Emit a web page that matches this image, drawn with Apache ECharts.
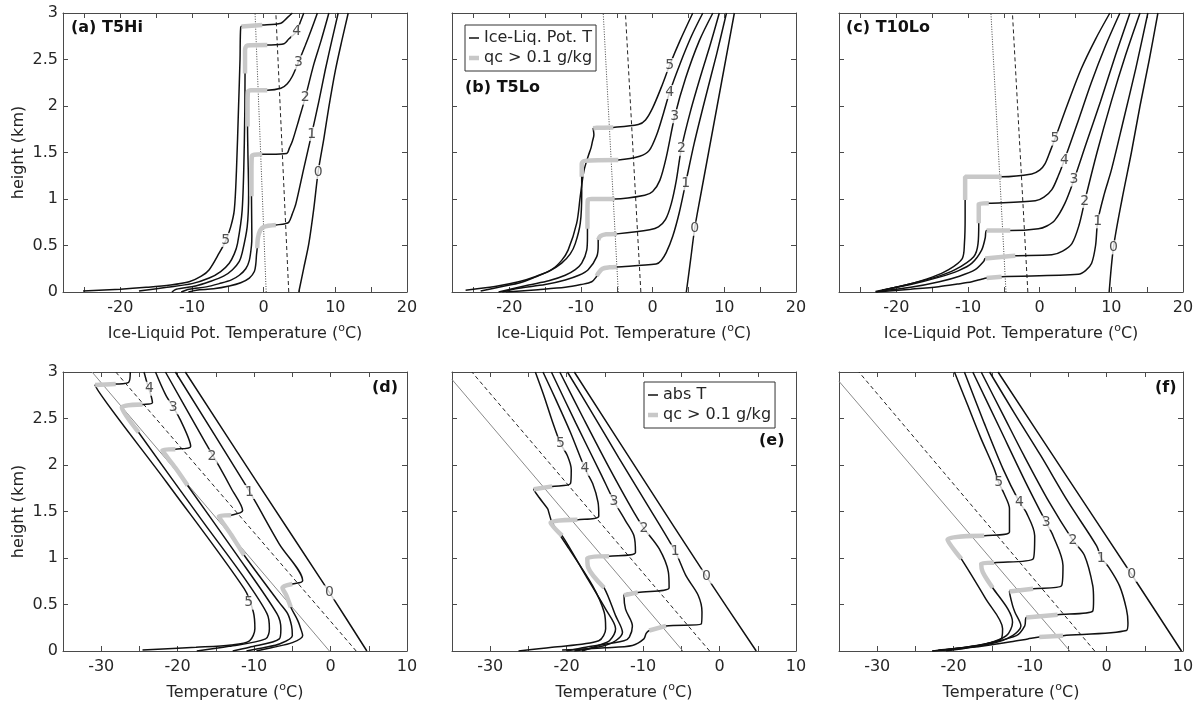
<!DOCTYPE html>
<html>
<head>
<meta charset="utf-8">
<script src="https://cdn.jsdelivr.net/npm/echarts@6/dist/echarts.min.js"></script>
<style>
html, body { margin: 0; padding: 0; background: #fff; }
#chart { width: 1203px; height: 706px; }
</style>
</head>
<body>
<div id="chart"></div>
<script>
// Six sounding panels: ice-liquid pot. temperature (top) and absolute T (bottom),
// curves 0..5 are successive days, thick grey where qc > 0.1 g/kg.

const FONT = 'DejaVu Sans';
const INK = '#262626';
const FRAME = '#4a4a4a';

const xTopTicks = [-25, -20, -15, -10, -5, 0, 5, 10, 15, 20];
const xTopLabels = [-20, -10, 0, 10, 20];
const xBotTicks = [-35, -30, -25, -20, -15, -10, -5, 0, 5, 10];
const xBotLabels = [-30, -20, -10, 0, 10];
const yTicks = [0, 0.5, 1, 1.5, 2, 2.5, 3];
const panelTitles = ['(a) T5Hi', '(b) T5Lo', '(c) T10Lo', '(d)', '(e)', '(f)'];
const curveNames = ['0', '1', '2', '3', '4', '5'];

// ---- (a) T5Hi, ice-liquid potential temperature [degC, km]
const aCurves = [
  [[4.9,0],[5.6,0.26],[6.3,0.52],[7.0,0.9],[7.6,1.29],[8.4,1.65],[9.1,1.99],[10.0,2.38],[10.9,2.7],[11.8,3.0]],
  [[-10.5,0],[-9.4,0.02],[-7,0.035],[-4.8,0.065],[-3.2,0.1],[-2.0,0.15],[-1.3,0.22],[-1.1,0.3],[-1.0,0.4],[-0.9,0.47],[-0.8,0.58],[-0.5,0.66],[0,0.7],[1.7,0.72],[3.0,0.735],[3.5,0.75],[4.0,0.84],[4.5,0.95],[5.6,1.33],[6.7,1.7],[7.7,2.05],[8.6,2.39],[9.5,2.7],[10.4,3.0]],
  [[-11.5,0],[-10.4,0.03],[-8,0.055],[-6.2,0.09],[-4.5,0.13],[-3.4,0.18],[-2.5,0.25],[-2.0,0.34],[-1.7,0.5],[-1.65,0.6],[-1.7,1.03],[-1.7,1.3],[-1.65,1.46],[-1.3,1.475],[-0.2,1.48],[3.2,1.49],[3.6,1.55],[4.0,1.62],[4.9,1.85],[5.8,2.09],[7.0,2.45],[8.0,2.7],[9.1,3.0]],
  [[-12.8,0],[-12.2,0.03],[-9.5,0.065],[-7.6,0.11],[-5.6,0.17],[-4.35,0.24],[-3.4,0.33],[-3.0,0.42],[-2.3,0.7],[-2.1,1.06],[-2.2,1.5],[-2.25,1.78],[-2.25,2.0],[-2.2,2.15],[-1.8,2.17],[0.5,2.17],[2.4,2.19],[3.3,2.24],[4.0,2.32],[4.85,2.47],[5.8,2.65],[6.7,2.83],[7.5,3.0]],
  [[-17.4,0.01],[-13.5,0.05],[-10,0.09],[-7.6,0.15],[-6,0.22],[-4.8,0.31],[-4.1,0.41],[-3.65,0.52],[-3.0,0.88],[-2.7,1.6],[-2.6,2.35],[-2.6,2.6],[-2.3,2.65],[0.5,2.655],[2.84,2.67],[3.5,2.72],[4.6,2.8],[5.1,2.9],[5.6,3.0]],
  [[-25.2,0.01],[-20,0.03],[-16.4,0.05],[-13,0.075],[-10.4,0.11],[-8.7,0.17],[-7.6,0.24],[-6.2,0.42],[-5.3,0.55],[-4.6,0.7],[-4.1,0.88],[-3.8,1.3],[-3.5,2.0],[-3.3,2.5],[-3.2,2.85],[-2.8,2.86],[-0.2,2.87],[2.4,2.89],[3.3,2.95],[4.0,3.0]]
];
const aCloud = [
  [[-0.9,0.47],[-0.8,0.58],[-0.5,0.66],[0,0.7],[1.7,0.72]],
  [[-1.7,1.03],[-1.7,1.3],[-1.65,1.46],[-1.3,1.475],[-0.2,1.48]],
  [[-2.25,1.78],[-2.25,2.0],[-2.2,2.15],[-1.8,2.17],[0.5,2.17]],
  [[-2.6,2.35],[-2.6,2.6],[-2.3,2.65],[0.5,2.655]],
  [[-3.1,2.855],[-0.2,2.87]]
];
const aDotted = [[0.35,0],[-1.2,3]];
const aDashed = [[3.5,0],[1.7,3]];
const aLabels = [[7.6,1.29],[6.7,1.7],[5.8,2.09],[4.85,2.47],[4.6,2.8],[-5.3,0.56]];

// ---- (b) T5Lo
const bCurves = [
  [[4.7,0],[5.3,0.35],[5.86,0.68],[6.6,1.0],[7.8,1.5],[9.0,2.0],[10.2,2.5],[11.4,3.0]],
  [[-20.5,0],[-16,0.025],[-12.2,0.05],[-10,0.08],[-8.5,0.11],[-7.8,0.17],[-7.6,0.2],[-7.0,0.25],[-6.0,0.265],[-5.0,0.27],[0.48,0.3],[1.2,0.34],[1.87,0.42],[2.8,0.6],[3.7,0.85],[4.6,1.17],[5.8,1.6],[7.4,2.1],[8.9,2.55],[10.3,3.0]],
  [[-21,0],[-18.7,0.04],[-15,0.08],[-12.2,0.13],[-10.3,0.18],[-9.0,0.24],[-7.8,0.38],[-7.6,0.5],[-7.6,0.56],[-7.3,0.6],[-6.5,0.62],[-5.0,0.625],[-0.4,0.67],[0.8,0.7],[1.8,0.78],[2.6,0.95],[3.3,1.2],[4.0,1.54],[5.3,1.95],[6.8,2.35],[8.0,2.65],[9.3,3.0]],
  [[-21.5,0],[-17.3,0.075],[-14.5,0.12],[-12.2,0.18],[-10.8,0.24],[-9.9,0.31],[-9.2,0.45],[-9.1,0.6],[-9.1,0.68],[-9.1,0.85],[-9.05,0.99],[-8.5,1.0],[-5.3,1.0],[-1.1,1.04],[0,1.08],[1.0,1.2],[1.9,1.45],[3.08,1.89],[4.6,2.3],[6.5,2.7],[8.4,3.0]],
  [[-24,0.01],[-21,0.06],[-18.5,0.1],[-16.4,0.16],[-14.3,0.23],[-12.7,0.31],[-11.5,0.41],[-10.8,0.52],[-10.1,0.74],[-9.9,1.06],[-9.9,1.24],[-9.9,1.38],[-9.5,1.41],[-4.8,1.42],[-1.8,1.46],[-0.5,1.52],[0.6,1.7],[1.5,1.92],[2.38,2.15],[3.8,2.45],[5.4,2.75],[7.0,3.0]],
  [[-26.1,0.02],[-22,0.06],[-18.7,0.11],[-16.2,0.17],[-14.1,0.24],[-12.7,0.34],[-11.8,0.45],[-10.6,0.74],[-10.1,1.03],[-9.6,1.3],[-9.0,1.46],[-8.6,1.55],[-8.4,1.62],[-8.2,1.69],[-8.3,1.76],[-7.8,1.765],[-5.5,1.77],[-2.0,1.8],[-1.0,1.85],[0,1.98],[1.2,2.2],[2.38,2.44],[3.8,2.7],[5.6,3.0]]
];
const bCloud = [
  [[-7.8,0.17],[-7.6,0.2],[-7.0,0.25],[-6.0,0.265],[-5.0,0.27]],
  [[-7.6,0.56],[-7.3,0.6],[-6.5,0.62],[-5.0,0.625]],
  [[-9.1,0.68],[-9.1,0.85],[-9.05,0.99],[-8.5,1.0],[-5.3,1.0]],
  [[-9.9,1.24],[-9.9,1.38],[-9.5,1.41],[-4.8,1.42]],
  [[-8.3,1.76],[-7.8,1.765],[-5.5,1.77]]
];
const bDotted = [[-4.8,0],[-6.9,3]];
const bDashed = [[-1.65,0],[-3.8,3]];
const bLabels = [[5.86,0.68],[4.6,1.17],[4.0,1.54],[3.08,1.89],[2.38,2.15],[2.38,2.44]];

// ---- (c) T10Lo
const cCurves = [
  [[9.7,0],[10.3,0.48],[11.5,1.0],[12.8,1.5],[14.0,2.0],[15.3,2.5],[16.5,3.0]],
  [[-22.9,0],[-18,0.03],[-14.1,0.057],[-11.5,0.085],[-9.45,0.11],[-8.0,0.14],[-7.4,0.15],[-5.3,0.165],[5.4,0.19],[6.4,0.23],[7.25,0.31],[7.8,0.5],[8.1,0.76],[9.0,1.05],[10.0,1.31],[11.7,1.85],[13.4,2.4],[15.1,3.0]],
  [[-22.4,0.01],[-18,0.05],[-14,0.11],[-11.2,0.17],[-9.0,0.24],[-7.8,0.33],[-7.6,0.36],[-5,0.38],[-3.4,0.39],[1.7,0.4],[3.2,0.44],[4.5,0.52],[5.5,0.72],[6.3,0.98],[8.0,1.5],[10.0,2.05],[12.0,2.55],[14.0,3.0]],
  [[-22,0.02],[-18,0.08],[-14,0.16],[-11.3,0.23],[-9.45,0.31],[-8.1,0.45],[-7.6,0.58],[-7.4,0.66],[-4.1,0.66],[-0.17,0.68],[1.0,0.71],[2.1,0.77],[3.5,0.95],[4.8,1.21],[6.5,1.6],[8.5,2.05],[10.6,2.55],[12.6,3.0]],
  [[-22.8,0],[-18.7,0.075],[-14.5,0.16],[-11.8,0.24],[-9.2,0.38],[-8.6,0.52],[-8.5,0.74],[-8.5,0.85],[-8.5,0.95],[-7.1,0.955],[-0.6,0.98],[0.6,1.02],[1.7,1.1],[2.6,1.25],[3.45,1.42],[5.2,1.8],[7.2,2.25],[9.2,2.65],[11.2,3.0]],
  [[-22.9,0.005],[-18.7,0.075],[-15,0.16],[-12.7,0.24],[-10.8,0.36],[-10.5,0.52],[-10.4,0.8],[-10.4,0.99],[-10.4,1.15],[-10.4,1.24],[-9.5,1.24],[-5.3,1.24],[-1.1,1.27],[0,1.31],[0.76,1.38],[1.5,1.52],[2.15,1.65],[3.8,2.0],[5.8,2.4],[7.8,2.72],[9.8,3.0]]
];
const cCloud = [
  [[-7.4,0.15],[-5.3,0.165]],
  [[-7.6,0.36],[-5,0.38],[-3.4,0.39]],
  [[-7.4,0.66],[-4.1,0.66]],
  [[-8.5,0.74],[-8.5,0.85],[-8.5,0.95],[-7.1,0.955]],
  [[-10.4,0.99],[-10.4,1.15],[-10.4,1.24],[-9.5,1.24],[-5.3,1.24]]
];
const cDotted = [[-4.7,0],[-6.8,3]];
const cDashed = [[-1.65,0],[-3.8,3]];
const cLabels = [[10.3,0.48],[8.1,0.76],[6.3,0.98],[4.8,1.21],[3.45,1.42],[2.15,1.65]];

// ---- (d) T5Hi, absolute temperature
const dCurves = [
  [[4.75,0],[-0.15,0.63],[-9.5,1.8],[-19.0,3.0]],
  [[-9.7,0],[-7.5,0.04],[-5.0,0.09],[-3.65,0.165],[-3.9,0.24],[-4.3,0.33],[-5.2,0.47],[-5.8,0.6],[-6.3,0.68],[-5.0,0.72],[-3.65,0.756],[-6.7,1.15],[-9.8,1.6],[-11.3,1.81],[-20.3,3.0]],
  [[-11,0],[-8.5,0.04],[-6.7,0.075],[-5.0,0.165],[-5.1,0.27],[-5.6,0.4],[-6.7,0.52],[-11.3,1.03],[-13.0,1.25],[-14.6,1.45],[-13.0,1.46],[-11.5,1.51],[-13.0,1.75],[-14.6,1.99],[-16.3,2.23],[-21.6,3.0]],
  [[-12.8,0],[-10.6,0.04],[-6.7,0.13],[-6.5,0.24],[-7.0,0.4],[-12.4,1.05],[-18.7,1.78],[-20.3,1.97],[-22.0,2.16],[-20.3,2.17],[-18.3,2.2],[-19.8,2.51],[-21.6,2.76],[-22.9,3.0]],
  [[-17.5,0],[-13.3,0.05],[-8.5,0.13],[-8.0,0.24],[-8.3,0.4],[-11.5,0.81],[-16.6,1.38],[-25.1,2.35],[-27.3,2.62],[-24.6,2.65],[-23.3,2.67],[-23.5,2.75],[-24.0,2.88],[-24.4,3.0]],
  [[-24.6,0.01],[-17.6,0.04],[-13,0.065],[-10.6,0.11],[-9.9,0.24],[-10.1,0.42],[-11.3,0.67],[-21.5,1.82],[-30.8,2.86],[-28.1,2.87],[-26.4,2.89],[-26.2,3.0]]
];
const dCloud = [
  [[-5.2,0.47],[-5.8,0.6],[-6.3,0.68],[-5.0,0.72]],
  [[-11.3,1.03],[-13.0,1.25],[-14.6,1.45],[-13.0,1.46]],
  [[-18.7,1.78],[-20.3,1.97],[-22.0,2.16],[-20.3,2.17]],
  [[-25.1,2.35],[-27.3,2.62],[-24.6,2.65]],
  [[-30.8,2.86],[-28.1,2.87]]
];
const dDotted = [[-0.15,0],[-31.2,3]];
const dDashed = [[3.35,0],[-28.1,3]];
const dLabels = [[-0.15,0.63],[-10.6,1.71],[-15.5,2.09],[-20.6,2.62],[-23.7,2.82],[-10.7,0.52]];

// ---- (e) T5Lo
const eCurves = [
  [[4.8,0],[-1.7,0.8],[-10,1.85],[-19.0,3.0]],
  [[-20.6,0.01],[-15,0.035],[-11.4,0.06],[-9.9,0.13],[-9.6,0.19],[-9.2,0.22],[-7.0,0.27],[-2.4,0.29],[-2.3,0.42],[-2.8,0.6],[-4.4,0.81],[-5.8,1.07],[-9.5,1.58],[-13.2,2.08],[-16.6,2.55],[-19.9,3.0]],
  [[-20,0],[-17.5,0.04],[-12.5,0.11],[-11.8,0.15],[-11.4,0.27],[-12.3,0.45],[-12.5,0.6],[-10.7,0.63],[-6.6,0.68],[-6.7,0.85],[-7.9,1.1],[-9.9,1.32],[-11.2,1.49],[-14.5,1.98],[-17.8,2.5],[-20.9,3.0]],
  [[-19,0],[-15,0.06],[-13.6,0.11],[-12.7,0.2],[-13.6,0.38],[-15.1,0.68],[-17.2,0.9],[-17.3,1.0],[-14.45,1.02],[-11.0,1.06],[-11.2,1.24],[-12.3,1.4],[-13.8,1.61],[-15.5,1.9],[-18.8,2.45],[-22.0,3.0]],
  [[-18,0],[-15.5,0.07],[-14.4,0.11],[-13.6,0.24],[-14.9,0.45],[-17.5,0.81],[-20.6,1.24],[-22.1,1.38],[-18.6,1.41],[-15.8,1.45],[-15.9,1.6],[-16.6,1.8],[-17.6,1.96],[-19.5,2.35],[-21.4,2.7],[-23.1,3.0]],
  [[-26.3,0],[-21.9,0.04],[-15.8,0.11],[-14.9,0.24],[-15.1,0.42],[-16.6,0.7],[-19.7,1.1],[-21.9,1.38],[-22.3,1.48],[-22.5,1.53],[-23.6,1.65],[-24.3,1.74],[-21.9,1.77],[-19.5,1.8],[-19.4,1.95],[-19.9,2.1],[-20.8,2.23],[-22.0,2.5],[-23.0,2.75],[-24.1,3.0]]
];
const eCloud = [
  [[-9.2,0.22],[-7.0,0.27]],
  [[-12.5,0.6],[-10.7,0.63]],
  [[-15.1,0.68],[-17.2,0.9],[-17.3,1.0],[-14.45,1.02]],
  [[-20.6,1.24],[-22.1,1.38],[-18.6,1.41]],
  [[-24.3,1.74],[-21.9,1.77]]
];
const eDotted = [[-4.8,0],[-35,2.92]];
const eDashed = [[-1.3,0],[-32.4,3]];
const eLabels = [[-1.7,0.8],[-5.8,1.07],[-9.9,1.32],[-13.8,1.61],[-17.6,1.96],[-20.8,2.23]];

// ---- (f) T10Lo
const fCurves = [
  [[9.8,0],[3.3,0.82],[-5,1.85],[-14.2,3.0]],
  [[-22.8,0],[-17.5,0.04],[-12.5,0.1],[-10.3,0.13],[-8.8,0.15],[-5.7,0.165],[2.6,0.22],[2.8,0.3],[2.6,0.45],[1.7,0.7],[0.3,0.9],[-0.7,1.0],[-1.3,1.13],[-5.0,1.6],[-8.6,2.1],[-12.0,2.55],[-15.3,3.0]],
  [[-22,0.01],[-17,0.06],[-11.8,0.165],[-10.7,0.27],[-10.5,0.36],[-6.4,0.39],[-1.8,0.43],[-1.7,0.55],[-1.8,0.7],[-2.9,1.03],[-4.4,1.19],[-7.5,1.6],[-10.8,2.1],[-13.6,2.55],[-16.4,3.0]],
  [[-21.5,0.01],[-15,0.08],[-12.3,0.165],[-11.2,0.27],[-12.0,0.42],[-12.3,0.49],[-12.7,0.64],[-9.6,0.67],[-5.9,0.7],[-5.7,0.92],[-7.0,1.24],[-7.9,1.38],[-10.5,1.8],[-14.0,2.4],[-17.5,3.0]],
  [[-21,0],[-16,0.07],[-13.1,0.165],[-12.3,0.31],[-12.9,0.45],[-14.9,0.68],[-16.2,0.85],[-16.4,0.94],[-14.7,0.95],[-9.6,0.99],[-9.4,1.24],[-10.5,1.49],[-11.4,1.6],[-13.5,1.95],[-16.0,2.45],[-18.6,3.0]],
  [[-22.8,0],[-17.5,0.05],[-13.8,0.13],[-13.6,0.24],[-15.8,0.56],[-19.0,0.99],[-20.8,1.2],[-16.0,1.24],[-12.7,1.28],[-12.7,1.53],[-13.4,1.69],[-14.1,1.81],[-14.7,1.96],[-16.5,2.3],[-18.2,2.65],[-19.9,3.0]]
];
const fCloud = [
  [[-8.8,0.15],[-5.7,0.165]],
  [[-10.5,0.36],[-6.4,0.39]],
  [[-12.7,0.64],[-9.6,0.67]],
  [[-14.9,0.68],[-16.2,0.85],[-16.4,0.94],[-14.7,0.95]],
  [[-19.0,0.99],[-20.8,1.2],[-16.0,1.24]]
];
const fDotted = [[-4.8,0],[-35,2.9]];
const fDashed = [[-1.55,0],[-32.4,3]];
const fLabels = [[3.3,0.82],[-0.7,1.0],[-4.4,1.19],[-7.9,1.38],[-11.4,1.6],[-14.1,1.81]];

const panels = [
  { curves: aCurves, cloud: aCloud, dotted: aDotted, dashed: aDashed, labels: aLabels },
  { curves: bCurves, cloud: bCloud, dotted: bDotted, dashed: bDashed, labels: bLabels },
  { curves: cCurves, cloud: cCloud, dotted: cDotted, dashed: cDashed, labels: cLabels },
  { curves: dCurves, cloud: dCloud, dotted: dDotted, dashed: dDashed, labels: dLabels },
  { curves: eCurves, cloud: eCloud, dotted: eDotted, dashed: eDashed, labels: eLabels },
  { curves: fCurves, cloud: fCloud, dotted: fDotted, dashed: fDashed, labels: fLabels },
];

const gridLeft = [63, 452, 839];
const gridTop = [13, 372];
const gridW = 344, gridH = 279;

const BLACK = '#111';
const CLOUD = '#c8c8c8';
const txt = { fontFamily: FONT, fontSize: 16, color: INK };

// legend swatches: a bar inside a 10x14 box (tiny corner specks pin the box size)
const ICON_THIN = 'path://M0,0l0.01,0l0,0.01zM0,6.25h10v1.5h-10zM9.99,14l0.01,0l0,-0.01z';
const ICON_THICK = 'path://M0,0l0.01,0l0,0.01zM0,4.75h10v4.5h-10zM9.99,14l0.01,0l0,-0.01z';

const grids = [], xAxes = [], yAxes = [], series = [];

panels.forEach((p, i) => {
  const row = i < 3 ? 0 : 1;
  const col = i % 3;
  const isTop = row === 0;
  grids.push({ left: gridLeft[col], top: gridTop[row], width: gridW, height: gridH });

  const xMin = isTop ? -28 : -35;
  const xMax = isTop ? 20 : 10;
  const ticks = isTop ? xTopTicks : xBotTicks;
  const labels = isTop ? xTopLabels : xBotLabels;
  const line = { show: true, onZero: false, lineStyle: { color: FRAME, width: 1 } };
  const tick = { show: true, inside: true, length: 5, customValues: ticks, lineStyle: { color: FRAME } };

  xAxes.push({
    type: 'value', gridIndex: i, min: xMin, max: xMax, position: 'bottom',
    axisLine: line, axisTick: tick, splitLine: { show: false },
    axisLabel: { ...txt, margin: 8, customValues: labels, formatter: v => String(v) },
    name: isTop ? 'Ice-Liquid Pot. Temperature ({s|o}C)' : 'Temperature ({s|o}C)',
    nameLocation: 'middle', nameGap: 31,
    nameTextStyle: { ...txt, lineHeight: 22, rich: { s: { fontFamily: FONT, fontSize: 11, color: INK, lineHeight: 11, verticalAlign: 'top' } } },
  });
  xAxes.push({
    type: 'value', gridIndex: i, min: xMin, max: xMax, position: 'top',
    axisLine: line, axisTick: tick, axisLabel: { show: false }, splitLine: { show: false },
  });
  yAxes.push({
    type: 'value', gridIndex: i, min: 0, max: 3, interval: 0.5, position: 'left',
    axisLine: line, axisTick: { show: true, inside: true, length: 5, lineStyle: { color: FRAME } },
    splitLine: { show: false },
    axisLabel: { ...txt, show: col === 0, margin: 5, formatter: v => String(v) },
    name: col === 0 ? 'height (km)' : '', nameLocation: 'middle', nameGap: 36, nameTextStyle: txt,
  });
  yAxes.push({
    type: 'value', gridIndex: i, min: 0, max: 3, interval: 0.5, position: 'right',
    axisLine: line, axisTick: { show: true, inside: true, length: 5, lineStyle: { color: FRAME } },
    axisLabel: { show: false }, splitLine: { show: false },
  });

  const ax = { xAxisIndex: 2 * i, yAxisIndex: 2 * i };
  series.push({
    type: 'line', ...ax, data: p.dotted, symbol: 'none', silent: true, z: 1,
    lineStyle: isTop ? { color: '#444', width: 1, type: [1, 1.5] } : { color: '#8a8a8a', width: 1 },
  });
  series.push({
    type: 'line', ...ax, data: p.dashed, symbol: 'none', silent: true, z: 1,
    lineStyle: { color: '#222', width: 1, type: [4, 3] },
  });
  p.curves.forEach(c => series.push({
    type: 'line', ...ax, name: isTop ? 'Ice-Liq. Pot. T' : 'abs T', data: c, symbol: 'none', silent: true, z: 2,
    smooth: 0.3, itemStyle: { color: BLACK }, lineStyle: { color: BLACK, width: 1.5 },
  }));
  p.cloud.forEach(c => series.push({
    type: 'line', ...ax, name: 'qc > 0.1 g/kg', data: c, symbol: 'none', silent: true, z: 3,
    smooth: 0.3, itemStyle: { color: CLOUD }, lineStyle: { color: CLOUD, width: 4.5 },
  }));
  series.push({
    type: 'scatter', ...ax, symbolSize: 1, silent: true, z: 5,
    itemStyle: { color: 'rgba(0,0,0,0)' },
    data: p.labels.map((v, k) => ({ value: v, name: curveNames[k] })),
    label: {
      show: true, position: 'inside', formatter: '{b}', fontFamily: FONT, fontSize: 14, color: INK,
      backgroundColor: '#fff', padding: [0, 1], lineHeight: 14,
    },
  });
});

const legendBase = {
  orient: 'vertical', selectedMode: false, backgroundColor: '#fff',
  borderColor: '#333', borderWidth: 1, padding: [4, 4], itemGap: 2,
  itemWidth: 10, itemHeight: 14, textStyle: { ...txt, lineHeight: 18 },
};

const titleStyle = { fontFamily: FONT, fontSize: 16, fontWeight: 'bold', color: '#111' };
const titlePos = [[71, 20], [465, 80], [846, 20], [372, 380], [759, 433], [1155, 380]];

const chart = echarts.init(document.getElementById('chart'), null, { renderer: 'canvas' });
chart.setOption({
  animation: false,
  backgroundColor: '#fff',
  title: panelTitles.map((t, i) => ({ text: t, left: titlePos[i][0], top: titlePos[i][1], padding: 0, textStyle: titleStyle })),
  legend: [
    { ...legendBase, left: 465, top: 25, data: [
      { name: 'Ice-Liq. Pot. T', icon: ICON_THIN, itemStyle: { color: BLACK } },
      { name: 'qc > 0.1 g/kg', icon: ICON_THICK, itemStyle: { color: CLOUD } },
    ] },
    { ...legendBase, left: 644, top: 382, data: [
      { name: 'abs T', icon: ICON_THIN, itemStyle: { color: BLACK } },
      { name: 'qc > 0.1 g/kg', icon: ICON_THICK, itemStyle: { color: CLOUD } },
    ] },
  ],
  grid: grids,
  xAxis: xAxes,
  yAxis: yAxes,
  series: series,
});
</script>
</body>
</html>
